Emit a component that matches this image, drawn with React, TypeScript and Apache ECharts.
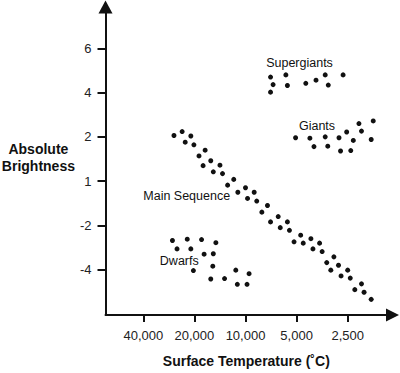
import React, { useEffect, useRef } from "react";
import * as echarts from "echarts";

// Positions are in axis-tick units: x 0..4 = 40,000 .. 2,500 ; y 0..5 = -4 .. 6
const xTickLabels = ["40,000", "20,000", "10,000", "5,000", "2,500"];
const yTickLabels = ["-4", "-2", "1", "2", "4", "6"];

const mainSequence: [number, number][] = [
  [0.6, 3.03], [0.76, 3.12], [0.93, 3.02], [0.82, 2.88], [0.99, 2.82],
  [1.21, 2.7], [1.09, 2.57], [1.32, 2.46], [1.17, 2.35], [1.5, 2.36],
  [1.37, 2.21], [1.55, 2.17], [1.77, 2.04], [1.65, 1.91], [2.0, 1.85],
  [1.85, 1.75], [2.17, 1.75], [2.04, 1.61], [2.22, 1.55], [2.43, 1.45],
  [2.32, 1.3], [2.64, 1.2], [2.82, 1.08], [2.49, 1.08], [2.68, 0.95],
  [2.86, 0.89], [3.08, 0.78], [3.28, 0.7], [2.95, 0.63], [3.13, 0.6],
  [3.45, 0.6], [3.32, 0.47], [3.5, 0.41], [3.73, 0.29], [3.59, 0.16],
  [3.82, 0.1], [4.0, -0.01], [3.67, -0.01], [3.87, -0.14], [4.05, -0.19],
  [4.27, -0.32], [4.14, -0.45], [4.32, -0.51], [4.46, -0.67],
];

const supergiants: [number, number][] = [
  [2.49, 4.35], [2.79, 4.4], [2.54, 4.18], [2.82, 4.16], [2.49, 4.01],
  [3.18, 4.21], [3.38, 4.28], [3.56, 4.4], [3.62, 4.17], [3.91, 4.4],
];

const giants: [number, number][] = [
  [2.98, 2.98], [3.26, 2.97], [3.56, 3.0], [3.83, 2.98], [3.98, 3.11],
  [4.22, 3.3], [4.5, 3.36], [4.27, 3.13], [4.11, 2.92], [4.46, 2.94],
  [3.34, 2.78], [3.61, 2.79], [3.86, 2.68], [4.06, 2.69],
];

const dwarfs: [number, number][] = [
  [0.57, 0.66], [0.86, 0.69], [1.14, 0.68], [1.42, 0.61], [0.66, 0.47],
  [0.93, 0.47], [1.19, 0.35], [1.37, 0.36], [0.98, -0.02], [1.36, 0.08],
  [1.32, -0.21], [1.59, -0.2], [1.81, -0.01], [2.07, -0.09], [1.84, -0.33],
  [2.03, -0.33],
];

const groupLabels = ["Supergiants", "Giants", "Main Sequence", "Dwarfs"];
const xTitle = "Surface Temperature (˚C)";
const yTitle = "Absolute\nBrightness";

const INK = "#111";
const FONT = "'Liberation Sans', Arial, sans-serif";

export default function App() {
  const ref = useRef<HTMLDivElement>(null);
  useEffect(() => {
    document.body.style.margin = "0";
    const chart = echarts.init(ref.current!, null, { renderer: "svg" });
    const dot = (name: string, data: [number, number][]) => ({
      name,
      type: "scatter",
      data,
      symbol: "circle",
      symbolSize: 5,
      itemStyle: { color: INK, opacity: 1 },
      silent: true,
    });
    const labelPos: [number, number][] = [
      [299.5, 62.7],
      [317, 125.7],
      [186.7, 196.3],
      [179.3, 261],
    ];
    chart.setOption({
      animation: false,
      grid: { left: 105.5, right: 7.5, top: 7, bottom: 58 },
      xAxis: {
        type: "value",
        min: -0.74,
        max: 4.877,
        splitLine: { show: false },
        axisLine: {
          show: true,
          onZero: false,
          lineStyle: { color: INK, width: 2 },
          symbol: ["none", "triangle"],
          symbolSize: [13, 13],
        },
        axisTick: {
          show: true,
          inside: false,
          length: 7,
          lineStyle: { color: INK, width: 2 },
          customValues: [0, 1, 2, 3, 4],
        },
        axisLabel: {
          customValues: [0, 1, 2, 3, 4],
          formatter: (v: number) => xTickLabels[Math.round(v)] ?? "",
          color: "#222",
          fontSize: 13,
          fontFamily: FONT,
          margin: 14,
        },
      },
      yAxis: {
        type: "value",
        min: -1.023,
        max: 5.933,
        splitLine: { show: false },
        axisLine: {
          show: true,
          onZero: false,
          lineStyle: { color: INK, width: 2 },
          symbol: ["none", "triangle"],
          symbolSize: [14, 13],
        },
        axisTick: {
          show: true,
          inside: false,
          length: 8,
          lineStyle: { color: INK, width: 2 },
          customValues: [0, 1, 2, 3, 4, 5],
        },
        axisLabel: {
          customValues: [0, 1, 2, 3, 4, 5],
          formatter: (v: number) => yTickLabels[Math.round(v)] ?? "",
          color: "#222",
          fontSize: 13,
          fontFamily: FONT,
          margin: 14,
        },
      },
      graphic: [
        ...groupLabels.map((t, i) => ({
          type: "text",
          x: labelPos[i][0],
          y: labelPos[i][1],
          style: {
            text: t,
            fill: INK,
            font: `12.5px ${FONT}`,
            textAlign: "center",
            textVerticalAlign: "middle",
          },
        })),
        {
          type: "text",
          x: 38.4,
          y: 157.5,
          style: {
            text: yTitle,
            fill: INK,
            font: `bold 14px ${FONT}`,
            lineHeight: 16.4,
            textAlign: "center",
            textVerticalAlign: "middle",
          },
        },
        {
          type: "text",
          x: 246.3,
          y: 361.3,
          style: {
            text: xTitle,
            fill: INK,
            font: `bold 14px ${FONT}`,
            textAlign: "center",
            textVerticalAlign: "middle",
          },
        },
      ],
      series: [
        dot("Main Sequence", mainSequence),
        dot("Supergiants", supergiants),
        dot("Giants", giants),
        dot("Dwarfs", dwarfs),
      ],
    });
    return () => chart.dispose();
  }, []);
  return <div ref={ref} style={{ width: 400, height: 373 }} />;
}
